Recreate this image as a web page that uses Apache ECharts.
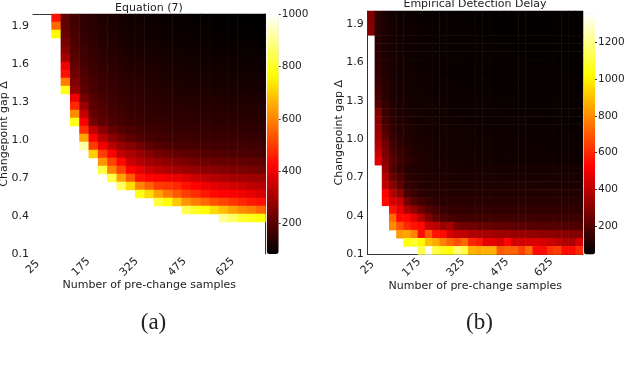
<!DOCTYPE html>
<html><head><meta charset="utf-8">
<style>html,body{margin:0;padding:0;background:#fff}#c{width:624px;height:372px}</style>
<script src="https://cdn.jsdelivr.net/npm/echarts@6/dist/echarts.min.js"></script>
</head><body><div id="c"></div>
<script>
const gapLabels=['0.10','0.16','0.23','0.29','0.35','0.42','0.48','0.54','0.61','0.67','0.73','0.80','0.86','0.92','0.99','1.05','1.11','1.18','1.24','1.30','1.37','1.43','1.49','1.56','1.62','1.68','1.75','1.81','1.87','1.94'];
const samplesA=[25,54,83,112,141,170,199,228,257,286,315,344,373,402,431,460,489,518,547,576,605,634,663,692,721];
const samplesB=[25,50,75,100,125,150,175,200,225,250,275,300,325,350,375,400,425,450,475,500,525,550,575,600,625,650,675,700,725,750];
const xTicks=[25,175,325,475,625];
const yTicks=[0.1,0.4,0.7,1.0,1.3,1.6,1.9];
const cbTicksA=[200,400,600,800,1000];
const cbTicksB=[200,400,600,800,1000,1200];
// rows listed top to bottom, each ends at the last column; missing leading cells are blank
const rowsA=[
[440,205,165,145,135,125,118,112,108,104,101,98,96,94,92,90,89,88,87,87,86,86,85],
[560,210,170,150,138,128,120,114,110,106,103,100,98,96,94,92,91,90,89,88,88,87,87],
[760,220,175,155,140,130,123,117,112,108,105,102,100,98,96,95,93,92,91,90,89,89,88],
[240,182,160,145,134,126,120,115,111,108,105,103,101,99,97,96,95,94,93,92,91,90],
[265,190,165,150,140,132,126,120,116,113,110,108,106,104,102,100,99,98,97,96,95,94],
[300,200,172,156,145,137,130,125,121,118,115,112,110,108,106,104,103,102,101,100,99,98],
[400,215,180,162,150,141,135,130,126,122,119,116,114,112,110,109,107,106,105,104,103,102],
[440,230,188,168,155,146,140,135,130,126,123,120,118,116,114,113,111,110,109,108,107,106],
[590,250,198,175,161,152,145,139,135,131,128,125,122,120,118,117,115,114,113,112,111,110],
[790,275,208,182,168,158,150,144,139,135,132,129,127,125,123,121,120,119,118,117,116,115],
[400,240,195,176,164,155,149,144,140,136,133,131,129,128,127,126,125,124,123,122,122],
[470,290,205,184,170,161,154,149,145,141,138,136,134,133,132,131,130,129,128,127,126],
[610,340,220,194,178,168,160,155,150,146,143,141,140,139,138,137,136,135,134,133,132],
[790,410,240,205,187,175,167,161,156,152,149,147,146,145,144,143,142,141,140,139,138],
[480,340,265,222,198,184,175,168,163,159,156,154,153,152,151,150,149,148,147,146],
[640,420,320,270,238,205,188,178,172,168,165,163,162,161,160,159,158,157,156,155],
[920,500,400,330,285,260,235,210,195,186,180,177,175,174,173,172,171,170,169,168],
[700,500,420,340,310,285,260,240,225,215,208,202,197,193,190,187,185,183,180],
[620,510,430,350,320,300,285,270,255,245,235,228,222,218,215,212,210,208],
[830,600,510,420,380,350,330,315,300,290,280,270,262,255,250,245,240,235],
[830,640,540,440,420,410,400,390,370,350,335,320,310,300,295,290,285],
[860,720,600,550,500,490,470,440,420,400,380,370,360,345,335,325],
[790,720,640,580,540,500,480,450,430,420,410,400,385,370],
[820,770,690,620,590,560,530,510,490,470,450,440],
[840,800,770,720,680,640,610,590,560],
[900,860,810,790,770],
[],[],[],[]
];
const rowsB=[
[285,125,95,80,72,68,65,62,60,60,58,58,56,56,55,55,55,54,54,54,54,54,53,53,53,53,52,52,52,52],
[290,120,95,82,74,70,66,64,62,60,60,58,58,56,56,55,55,55,54,54,54,54,54,53,53,53,53,53,52,52],
[295,118,96,84,76,70,67,65,62,62,60,60,58,58,56,56,55,55,55,54,54,54,54,54,53,53,53,53,53,52],
[118,98,85,78,72,68,66,64,62,62,60,60,58,58,56,56,56,55,55,55,54,54,54,54,54,53,53,53,53],
[120,100,86,78,73,70,67,65,64,62,62,60,60,58,58,57,56,56,56,55,55,55,55,54,54,54,54,54,54],
[125,100,88,80,74,70,68,66,65,63,62,62,60,60,59,58,58,57,57,56,56,56,55,55,58,55,55,55,54],
[135,105,90,82,76,72,69,67,65,64,63,62,61,60,60,59,58,58,58,57,57,57,56,56,56,56,55,55,55],
[140,108,92,84,78,74,71,68,66,60,64,63,55,62,61,55,60,55,59,58,58,58,57,57,57,56,56,56,56],
[150,112,95,86,80,75,72,70,68,66,65,64,63,62,62,61,60,60,60,59,59,58,58,58,58,57,57,57,60],
[165,118,98,88,82,77,74,72,70,68,66,65,65,64,63,62,62,61,60,60,60,60,59,59,59,58,58,62,58],
[175,125,104,92,84,79,76,73,71,70,68,67,66,65,65,64,63,62,62,61,61,60,60,60,60,59,59,59,59],
[200,140,110,96,88,82,79,76,74,72,70,69,68,67,66,66,65,64,64,63,62,62,62,61,61,61,60,60,60],
[280,155,118,100,92,86,82,78,76,74,72,71,70,69,68,67,66,66,65,65,64,64,63,63,62,62,62,61,61],
[300,170,125,108,96,90,85,82,80,77,75,74,72,71,70,69,68,68,67,66,66,65,65,64,64,63,63,63,62],
[330,190,135,115,102,94,88,85,82,80,78,76,75,74,73,72,71,70,69,68,68,67,67,66,66,65,65,60,64],
[350,220,150,125,108,98,92,88,85,82,80,78,77,76,75,74,73,72,71,70,70,69,68,68,67,67,66,66,65],
[380,260,170,135,115,104,96,92,88,85,82,75,78,78,77,76,75,74,73,72,71,71,70,70,69,68,68,67,67],
[420,280,190,150,125,110,102,96,92,88,85,83,81,80,79,78,77,70,75,74,73,72,72,71,71,70,70,69,69],
[470,300,215,165,135,118,108,100,95,92,88,86,84,83,82,80,80,72,78,77,76,76,75,74,74,73,73,72,72],
[330,200,150,115,105,100,98,96,94,94,92,92,92,90,90,90,90,88,88,88,88,88,88,88,88,88,88,88],
[380,240,190,135,118,108,104,100,98,97,96,96,95,95,95,94,94,93,93,93,92,92,92,92,92,92,92,92],
[400,300,220,150,130,115,108,106,104,103,102,102,101,101,100,100,100,100,99,99,99,99,98,98,98,98,98,98],
[520,380,310,180,150,128,118,114,112,111,110,110,110,109,109,109,109,109,108,108,108,108,108,108,108,108,108,108],
[540,450,420,270,200,170,145,132,126,124,122,122,121,121,120,120,120,120,120,120,120,120,120,120,120,120,120,120],
[560,480,380,320,250,200,170,150,142,140,138,138,138,137,137,137,136,136,136,136,136,136,135,135,135,135,135],
[730,540,540,470,380,280,225,195,178,170,166,165,165,165,164,164,163,163,162,162,162,161,161,160,160,160,160],
[800,680,600,560,540,420,400,330,360,270,260,250,240,235,230,225,225,220,215,210,205,205,200,200,195,195,190],
[830,850,780,550,700,560,540,450,410,410,370,370,360,350,340,340,330,330,320,320,310,310,300,300,290,290],
[1040,1080,1020,900,860,780,720,680,730,600,570,480,480,450,530,450,440,450,460,440,420,400,370,370,440],
[1120,1340,1120,1060,1030,1180,1120,880,860,870,870,700,720,720,650,730,540,540,620,640,540,540,600]
];
function cells(rows,nCols){
  const out=[];const nRows=rows.length;
  rows.forEach((r,i)=>{const s=nCols-r.length;r.forEach((v,j)=>out.push([s+j,nRows-1-i,v]));});
  return out;
}
function hot(t){
  const r=Math.min(1,t/0.365),g=Math.max(0,Math.min(1,(t-0.365)/0.381)),b=Math.max(0,(t-0.746)/0.254);
  const h=x=>Math.round(x*255).toString(16).padStart(2,'0');
  return '#'+h(r)+h(g)+h(b);
}
const hotColors=[];for(let i=0;i<=60;i++)hotColors.push(hot(i/60));
const font='"DejaVu Sans"';const tc='#222';const fs=11;
const A={l:33,t:14,w:232.5,h:240},B={l:367.7,t:11,w:215.3,h:243.5};
function hiddenCat(g,data,extra){return Object.assign({type:'category',gridIndex:g,data:data,axisTick:{show:false},axisLabel:{show:false},splitLine:{show:false},axisLine:{show:false,onZero:false}},extra||{});}
function xVal(g,max){return {type:'value',gridIndex:g,position:'bottom',min:25,max:max,splitLine:{show:false},axisLine:{show:false,onZero:false},
  axisTick:{show:false},
  axisLabel:{customValues:xTicks,rotate:45,align:'center',verticalAlign:'middle',margin:13,fontFamily:font,fontSize:fs,color:tc,showMinLabel:true,showMaxLabel:true},
  name:'Number of pre-change samples',nameLocation:'middle',nameGap:26,nameMoveOverlap:false,nameTextStyle:{fontFamily:font,fontSize:fs,color:tc}};}
function yVal(g,gap){return {type:'value',gridIndex:g,position:'left',min:0.1,max:2.0,splitLine:{show:false},axisLine:{show:false,onZero:false},
  axisTick:{show:false},
  axisLabel:{customValues:yTicks,margin:4,fontFamily:font,fontSize:fs,color:tc,formatter:v=>v.toFixed(1)},
  name:'Changepoint gap Δ',nameLocation:'middle',nameRotate:90,nameGap:gap,nameMoveOverlap:false,nameTextStyle:{fontFamily:font,fontSize:fs,color:tc}};}
function cbY(g,min,max,ticks){return {type:'value',gridIndex:g,position:'right',min:min,max:max,splitLine:{show:false},axisLine:{show:false,onZero:false},
  axisTick:{show:true,customValues:ticks,length:2,inside:false,lineStyle:{color:'#333',width:1}},
  axisLabel:{customValues:ticks,margin:3,fontFamily:font,fontSize:10.5,color:tc,formatter:v=>String(v)}};}
const line={show:true,onZero:false,lineStyle:{color:'#333',width:1}};
const option={animation:false,backgroundColor:'#fff',
 title:[
  {text:'Equation (7)',left:149,top:3,padding:0,textAlign:'center',textStyle:{fontFamily:font,fontSize:fs,fontWeight:'normal',color:tc}},
  {text:'Empirical Detection Delay',left:475,top:-1,padding:0,textAlign:'center',textStyle:{fontFamily:font,fontSize:fs,fontWeight:'normal',color:tc}},
  {text:'(a)',left:153.5,top:311,padding:0,textAlign:'center',textStyle:{fontFamily:'"Liberation Serif"',fontSize:23,fontWeight:'normal',color:'#222'}},
  {text:'(b)',left:479.5,top:311,padding:0,textAlign:'center',textStyle:{fontFamily:'"Liberation Serif"',fontSize:23,fontWeight:'normal',color:'#222'}}
 ],
 grid:[
  {left:A.l,top:A.t,width:A.w,height:A.h,outerBoundsMode:'none'},
  {left:B.l,top:B.t,width:B.w,height:B.h,outerBoundsMode:'none'},
  {left:266.7,top:14,width:12,height:240,outerBoundsMode:'none'},
  {left:584,top:13.5,width:11,height:241,outerBoundsMode:'none'}
 ],
 xAxis:[
  hiddenCat(0,samplesA,{position:'top',axisLine:line}),
  xVal(0,750),
  hiddenCat(1,samplesB,{position:'bottom',axisLine:line}),
  xVal(1,758),
  hiddenCat(2,['a'],{show:false}),
  hiddenCat(3,['b'],{show:false})
 ],
 yAxis:[
  hiddenCat(0,gapLabels,{position:'right',axisLine:line}),
  yVal(0,23),
  hiddenCat(1,gapLabels,{position:'left',axisLine:line}),
  yVal(1,23),
  cbY(2,84,1000,cbTicksA),
  cbY(3,45,1359,cbTicksB)
 ],
 visualMap:[
  {type:'continuous',seriesIndex:0,min:84,max:1000,left:266.7,top:14,itemWidth:12,itemHeight:240,padding:0,text:null,calculable:false,hoverLink:false,inRange:{color:hotColors},textStyle:{fontSize:1,color:'rgba(0,0,0,0)'}},
  {type:'continuous',seriesIndex:1,min:45,max:1359,left:584,top:13.5,itemWidth:11,itemHeight:241,padding:0,text:null,calculable:false,hoverLink:false,inRange:{color:hotColors},textStyle:{fontSize:1,color:'rgba(0,0,0,0)'}}
 ],
 series:[
  {type:'heatmap',xAxisIndex:0,yAxisIndex:0,data:cells(rowsA,samplesA.length),progressive:0},
  {type:'heatmap',xAxisIndex:2,yAxisIndex:2,data:cells(rowsB,samplesB.length),progressive:0}
 ]
};
echarts.init(document.getElementById('c'),null,{renderer:'canvas'}).setOption(option);
</script></body></html>
